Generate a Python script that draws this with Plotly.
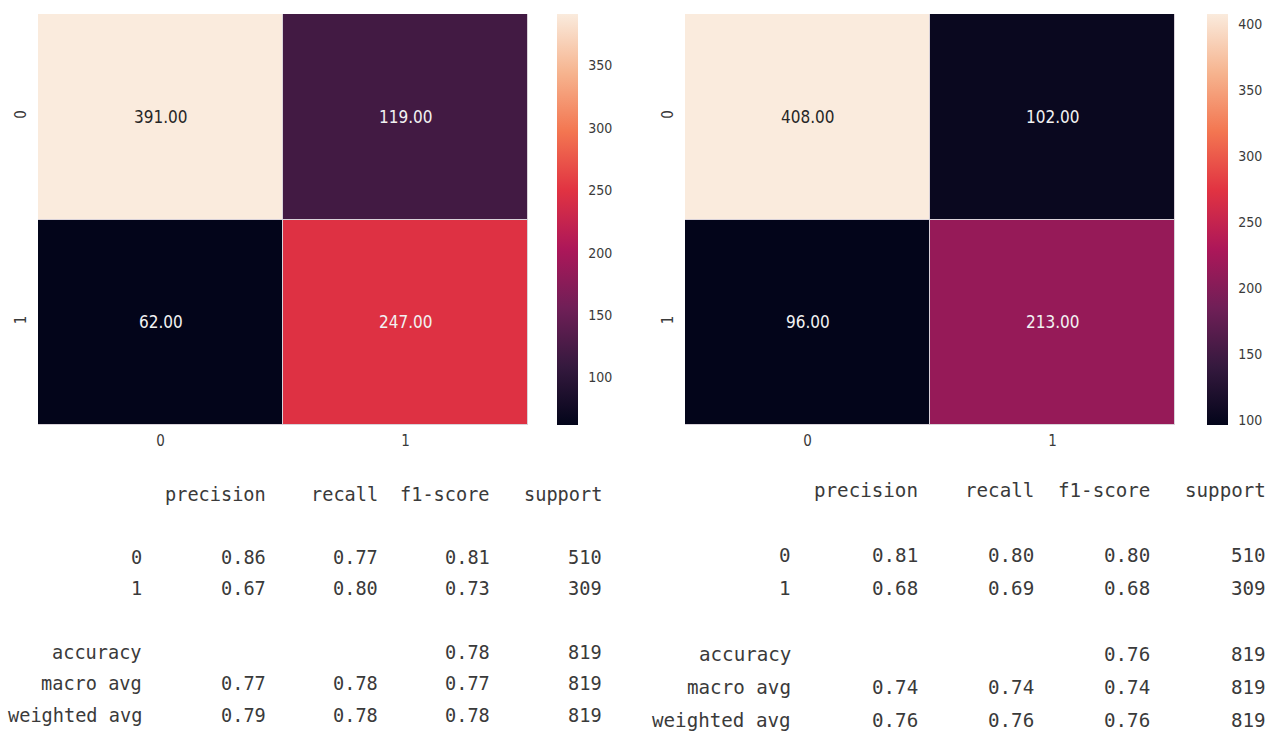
import plotly.graph_objects as go

# ---- data -------------------------------------------------------------
classes = ["0", "1"]

cm_left = [[391, 119],
           [62, 247]]
cm_right = [[408, 102],
            [96, 213]]

report_columns = ["precision", "recall", "f1-score", "support"]
report_rows = ["0", "1", "accuracy", "macro avg", "weighted avg"]

left_precision = [0.86, 0.67, None, 0.77, 0.79]
left_recall = [0.77, 0.80, None, 0.78, 0.78]
left_f1 = [0.81, 0.73, 0.78, 0.77, 0.78]
left_support = [510, 309, 819, 819, 819]

right_precision = [0.81, 0.68, None, 0.74, 0.76]
right_recall = [0.80, 0.69, None, 0.74, 0.76]
right_f1 = [0.80, 0.68, 0.76, 0.74, 0.76]
right_support = [510, 309, 819, 819, 819]

# ---- style ------------------------------------------------------------
W, H = 1282, 731
ROCKET = [
    (0.000, (3, 5, 26)),
    (1 / 7, (53, 25, 62)),
    (2 / 7, (112, 31, 87)),
    (3 / 7, (173, 23, 89)),
    (4 / 7, (225, 51, 66)),
    (5 / 7, (243, 118, 81)),
    (6 / 7, (246, 180, 143)),
    (1.000, (250, 235, 221)),
]
rocket_scale = [[p, "rgb(%d,%d,%d)" % c] for p, c in ROCKET]

TXT = "#3a3a3a"
HEAT_FONT = "DejaVu Sans Condensed, DejaVu Sans, sans-serif"
MONO_FONT = "DejaVu Sans Mono, Liberation Mono, monospace"


def rocket_at(t):
    t = min(max(t, 0.0), 1.0)
    for (p0, c0), (p1, c1) in zip(ROCKET[:-1], ROCKET[1:]):
        if t <= p1:
            f = (t - p0) / (p1 - p0)
            return [c0[i] + f * (c1[i] - c0[i]) for i in range(3)]
    return list(ROCKET[-1][1])


def luminance(rgb):
    out = []
    for v in rgb:
        v = v / 255.0
        out.append(v / 12.92 if v <= 0.03928 else ((v + 0.055) / 1.055) ** 2.4)
    return 0.2126 * out[0] + 0.7152 * out[1] + 0.0722 * out[2]


def px_x(x):
    return x / W


def px_y(y):
    return 1 - y / H


# panel geometry in pixels: heatmap span, colorbar left edge, report layout
panels = [
    dict(z=cm_left, x0=38, x1=528, cb=557, xa="x", ya="y",
         tab_x=10, cw=11.2, ty0=494, lh=31.6, fs=18.6,
         cols=[left_precision, left_recall, left_f1, left_support]),
    dict(z=cm_right, x0=685, x1=1175, cb=1207, xa="x2", ya="y2",
         tab_x=654, cw=11.58, ty0=490, lh=32.9, fs=19.2,
         cols=[right_precision, right_recall, right_f1, right_support]),
]
TOP, BOTTOM = 14, 425

fig = go.Figure()
annotations = []

for i, p in enumerate(panels):
    z = p["z"]
    flat = [v for row in z for v in row]
    zmin, zmax = min(flat), max(flat)
    fig.add_trace(go.Heatmap(
        z=z, x=classes, y=classes,
        xaxis=p["xa"], yaxis=p["ya"],
        colorscale=rocket_scale, zmin=zmin, zmax=zmax,
        xgap=1, ygap=1, hoverinfo="skip",
        colorbar=dict(
            x=px_x(p["cb"]), xanchor="left", xpad=0, ypad=0,
            y=px_y((TOP + BOTTOM) / 2), yanchor="middle",
            len=BOTTOM - TOP, lenmode="pixels",
            thickness=21, thicknessmode="pixels",
            outlinewidth=0, tick0=0, dtick=50,
            ticks="outside", ticklen=8, tickcolor="rgba(0,0,0,0)",
            tickfont=dict(family=HEAT_FONT, size=14, color=TXT),
        ),
    ))
    # cell value labels
    for r, row in enumerate(z):
        for c, v in enumerate(row):
            lum = luminance(rocket_at((v - zmin) / (zmax - zmin)))
            annotations.append(dict(
                x=classes[c], y=classes[r], xref=p["xa"], yref=p["ya"],
                text=f"{v:.2f}", showarrow=False,
                font=dict(family=HEAT_FONT, size=17,
                          color="#262626" if lum > 0.408 else "#f2f2f2"),
            ))

    # classification report as monospaced columns
    line_idx = [2, 3, 5, 6, 7]
    name_end = 12
    col_end = [23, 33, 43, 53]
    fs = p["fs"]
    font = dict(family=MONO_FONT, size=fs, color=TXT)

    def put(text, char_end, line):
        annotations.append(dict(
            x=px_x(p["tab_x"] + char_end * p["cw"]),
            y=px_y(p["ty0"] + line * p["lh"]),
            xref="paper", yref="paper", xanchor="right", yanchor="middle",
            text=text, showarrow=False, font=font,
        ))

    for name, end in zip(report_columns, col_end):
        put(name, end, 0)
    for k, (rname, line) in enumerate(zip(report_rows, line_idx)):
        put(rname, name_end, line)
        for col, end in zip(p["cols"], col_end):
            v = col[k]
            if v is None:
                continue
            put(str(v) if isinstance(v, int) else f"{v:.2f}", end, line)

axis_common = dict(showgrid=False, zeroline=False, showline=False,
                   ticks="", tickfont=dict(family=HEAT_FONT, size=15, color=TXT))

layout_axes = {}
for i, p in enumerate(panels):
    sx = "" if i == 0 else "2"
    layout_axes["xaxis" + sx] = dict(
        axis_common, domain=[px_x(p["x0"]), px_x(p["x1"])],
        anchor="y" + sx, type="category", ticklabelstandoff=5,
    )
    layout_axes["yaxis" + sx] = dict(
        axis_common, domain=[px_y(BOTTOM), px_y(TOP)],
        anchor="x" + sx, type="category", autorange="reversed",
        tickangle=-90, ticklabelstandoff=8,
    )

fig.update_layout(
    width=W, height=H,
    margin=dict(l=0, r=0, t=0, b=0),
    paper_bgcolor="white", plot_bgcolor="#d9d2d9",
    showlegend=False,
    annotations=annotations,
    **layout_axes,
)

fig.write_html("out.html")
